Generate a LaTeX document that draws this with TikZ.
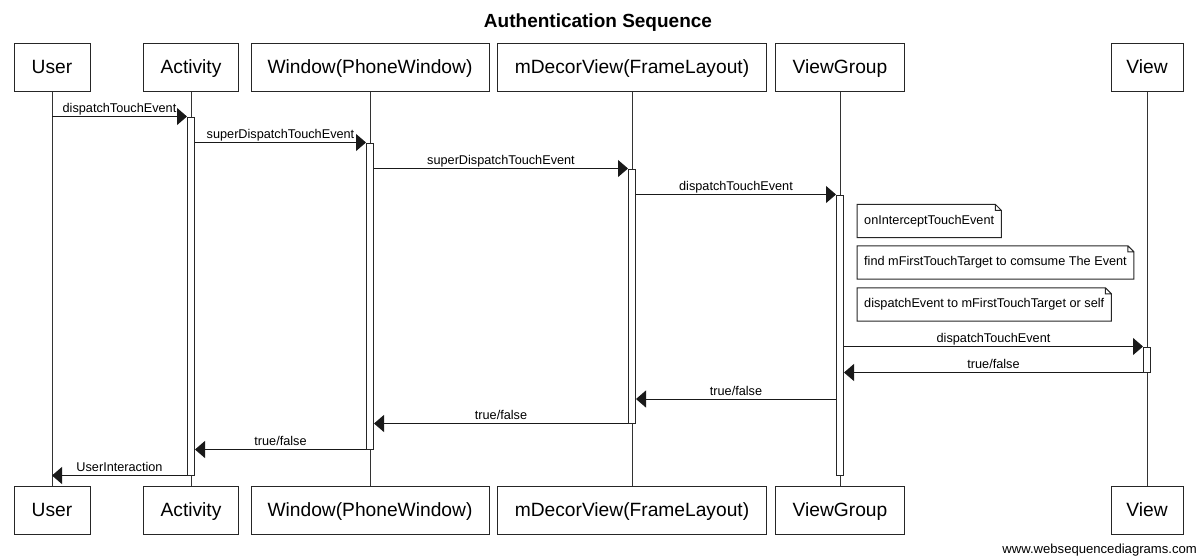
\documentclass[tikz,border=0pt]{standalone}
\usepackage{fontspec}
\setmainfont{Liberation Sans}
\usetikzlibrary{arrows.meta}
\begin{document}
\begin{tikzpicture}[x=1pt,y=-1pt,
 part/.style={draw=black!85, line width=1pt, fill=white, minimum height=48pt, inner sep=0, text height=14pt, text depth=2pt, font=\fontsize{19.2}{22}\selectfont},
 life/.style={draw=black!80, line width=1pt},
 actbox/.style={draw=black!85, line width=1pt, fill=white, minimum width=7pt, inner sep=0},
 msg/.style={draw=black!90, line width=1pt, -{Triangle[length=10pt,width=17pt]}},
 lbl/.style={font=\fontsize{12.7}{14}\selectfont, anchor=base, inner sep=0, yshift=4pt},
 notebox/.style={inner xsep=7pt, inner ysep=0, minimum height=33pt, anchor=west, font=\fontsize{12.7}{14}\selectfont},
 noteline/.style={draw=black!85, line width=1pt}
]
\useasboundingbox (0,0) rectangle (1199,558);
\node[font=\bfseries\fontsize{19}{22}\selectfont, anchor=base, inner sep=0] (title) at (598,27) {Authentication Sequence};

% participants top
\node[part, minimum width=76pt] (uT) at (52,67) {User};
\node[part, minimum width=95pt] (acT) at (191,67) {Activity};
\node[part, minimum width=238pt] (wT) at (370,67) {Window(PhoneWindow)};
\node[part, minimum width=269pt] (dT) at (632,67) {mDecorView(FrameLayout)};
\node[part, minimum width=129pt] (gT) at (840,67) {ViewGroup};
\node[part, minimum width=72pt] (vT) at (1147,67) {View};
% participants bottom
\node[part, minimum width=76pt] (uB) at (52,510) {User};
\node[part, minimum width=95pt] (acB) at (191,510) {Activity};
\node[part, minimum width=238pt] (wB) at (370,510) {Window(PhoneWindow)};
\node[part, minimum width=269pt] (dB) at (632,510) {mDecorView(FrameLayout)};
\node[part, minimum width=129pt] (gB) at (840,510) {ViewGroup};
\node[part, minimum width=72pt] (vB) at (1147,510) {View};

% lifelines
\draw[life] (uT) -- (uB);
\draw[life] (acT) -- (acB);
\draw[life] (wT) -- (wB);
\draw[life] (dT) -- (dB);
\draw[life] (gT) -- (gB);
\draw[life] (vT) -- (vB);

% activations
\node[actbox, minimum height=358pt] (aA) at (191,296) {};
\node[actbox, minimum height=306pt] (aW) at (370,296) {};
\node[actbox, minimum height=254pt] (aD) at (632,296) {};
\node[actbox, minimum height=280pt] (aG) at (840,335) {};
\node[actbox, minimum height=25pt] (aV) at (1147,359.5) {};

% notes
\node[notebox] (n1) at (857,221) {onInterceptTouchEvent};
\node[notebox] (n2) at (857,262.5) {find mFirstTouchTarget to comsume The Event};
\node[notebox] (n3) at (857,304.5) {dispatchEvent to mFirstTouchTarget or self};
\foreach \n in {n1,n2,n3}
  \draw[noteline] (\n.north west) -- ([xshift=-6pt]\n.north east) -- ([yshift=-6pt]\n.north east) -- (\n.south east) -- (\n.south west) -- cycle
    ([xshift=-6pt]\n.north east) |- ([yshift=-6pt]\n.north east);

% messages
\coordinate (r7) at (840,399);
\draw[msg] (uT.south |- aA.north) -- (aA.north west) node[lbl, pos=.5] {dispatchTouchEvent};
\draw[msg] (aA.east |- aW.north) -- (aW.north west) node[lbl, pos=.5] {superDispatchTouchEvent};
\draw[msg] (aW.east |- aD.north) -- (aD.north west) node[lbl, pos=.5] {superDispatchTouchEvent};
\draw[msg] (aD.east |- aG.north) -- (aG.north west) node[lbl, pos=.5] {dispatchTouchEvent};
\draw[msg] (aG.east |- aV.north) -- (aV.north west) node[lbl, pos=.5] {dispatchTouchEvent};
\draw[msg] (aV.south west) -- (aG.east |- aV.south) node[lbl, pos=.5] {true/false};
\draw[msg] (aG.west |- r7) -- (aD.east |- r7) node[lbl, pos=.5] {true/false};
\draw[msg] (aD.south west) -- (aW.east |- aD.south) node[lbl, pos=.5] {true/false};
\draw[msg] (aW.south west) -- (aA.east |- aW.south) node[lbl, pos=.5] {true/false};
\draw[msg] (aA.south west) -- (uT.south |- aA.south) node[lbl, pos=.5] {UserInteraction};

\node[anchor=base east, inner sep=0, font=\fontsize{13.1}{15}\selectfont] (footer) at (1197,553) {www.websequencediagrams.com};
\end{tikzpicture}
\end{document}
